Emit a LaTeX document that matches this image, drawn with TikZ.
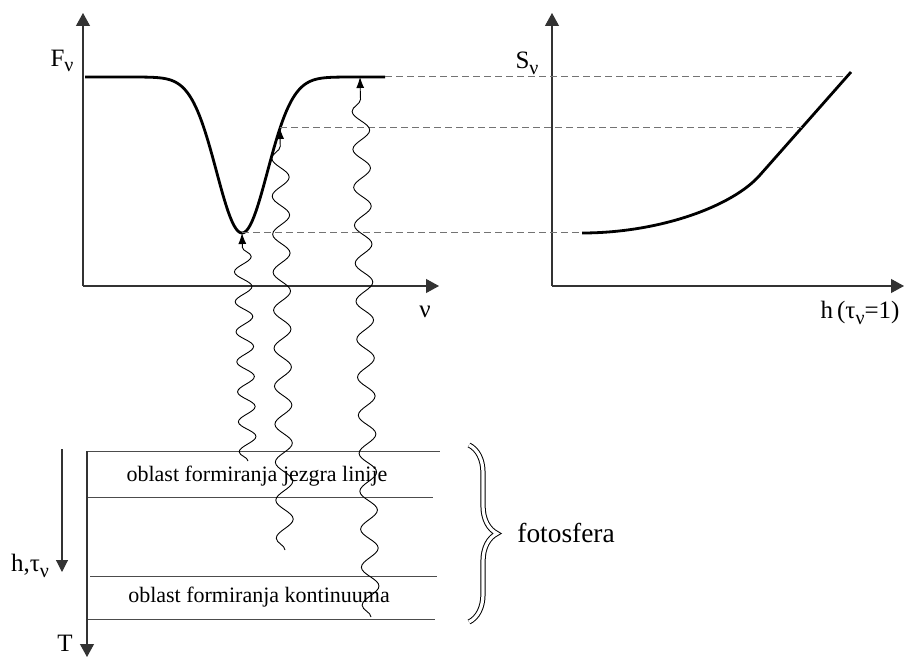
\documentclass[tikz,border=0pt]{standalone}
\usepackage{fontspec}
\setmainfont{Liberation Serif}
\usetikzlibrary{
    arrows.meta,
    positioning,
    decorations.pathmorphing,
    decorations.pathreplacing
}
\newcommand{\lsub}[1]{\raisebox{-0.5ex}{\fontsize{10}{11}\selectfont #1}}

\begin{document}
\begin{tikzpicture}[x=0.5pt, y=-0.5pt,
    axisarrow/.style={draw=black!80, line width=0.55pt, -{Triangle[length=6.5pt,width=7pt]}},
    profile/.style={line width=1.4pt, line join=round},
    guide/.style={draw=black!55, line width=0.5pt, dash pattern=on 3.5pt off 2pt},
    layerline/.style={draw=black!70, line width=0.5pt},
    wave/.style={line width=0.45pt, decorate,
        decoration={snake, amplitude=4.3pt, segment length=#1, post length=6pt},
        -{Latex[length=5.5pt,width=4pt]}},
    lbl/.style={font=\fontsize{12.5}{14}\selectfont, inner sep=1pt},
    layertext/.style={font=\fontsize{11}{13}\selectfont, inner sep=1pt}
]
\useasboundingbox (0,0) rectangle (904,657);

% spectral line profile
\coordinate (forig) at (83,286);
\draw[axisarrow] (forig) -- (83,13);
\draw[axisarrow] (forig) -- (439,286);
\node[lbl] (Flabel) at (62,61) {F\lsub{ν}};
\node[lbl] (nulabel) at (425,312) {ν};

\draw[profile] plot[domain=85:385, samples=150] (\x, {77+156*exp(-(((\x-242)/36)^2))});
\coordinate (lcore) at (242,233);
\coordinate (lwing) at (280,128);
\coordinate (ltop) at (360,77);
\coordinate (lend) at (385,77);

% source function
\coordinate (sorig) at (552,286);
\draw[axisarrow] (sorig) -- (552,13);
\draw[axisarrow] (sorig) -- (904,286);
\node[lbl] (Slabel) at (527,63) {S\lsub{ν}};
\node[lbl] (hlabel) at (860,313) {h\,(τ\lsub{ν}=1)};

\coordinate (score) at (582,233);
\coordinate (sknee) at (760,175);
\coordinate (swing) at (801.5,128);
\coordinate (stop) at (846.6,77);
\draw[profile] (score) .. controls (660,233) and (733,206) .. (sknee) -- (851,72);

\draw[guide] (lend) -- (stop);
\draw[guide] (lwing) -- (swing);
\draw[guide] (lcore) -- (score);

% layers of the photosphere
\draw[layerline] (87,451) -- (440,451);
\draw[layerline] (87,497) -- (433,497);
\draw[layerline] (90,576) -- (437,576);
\draw[layerline] (87,619) -- (435,619);
\draw[axisarrow] (87,451) -- (87,657);
\draw[draw=black!80, line width=0.55pt, -{Triangle[length=6pt,width=6pt]}] (62,449) -- (62,572);
\node[lbl] (htlabel) at (30,566) {h,τ\lsub{ν}};
\node[lbl] (Tlabel) at (65,643) {T};

\node[layertext] (jezgro) at (257,476) {oblast formiranja jezgra linije};
\node[layertext] (kont) at (259,597) {oblast formiranja kontinuuma};

% photons
\coordinate (w1) at (248,461);
\coordinate (w2) at (285,550);
\coordinate (w3) at (371,617);
\draw[wave=15pt] (w1) -- (lcore);
\draw[wave=19pt] (w2) -- (lwing);
\draw[wave=19pt] (w3) -- (ltop);

% brace
\coordinate (btop) at (469,445);
\coordinate (bbot) at (469,622);
\coordinate (btip) at (498,533);
\draw[line width=0.5pt, double=white, double distance=1.6pt,
    decorate, decoration={brace, amplitude=14pt}] (btop) -- (bbot);
\node[font=\fontsize{13.7}{16}\selectfont, inner sep=0pt, right=9.5pt of btip] (foto) {fotosfera};
\end{tikzpicture}
\end{document}
